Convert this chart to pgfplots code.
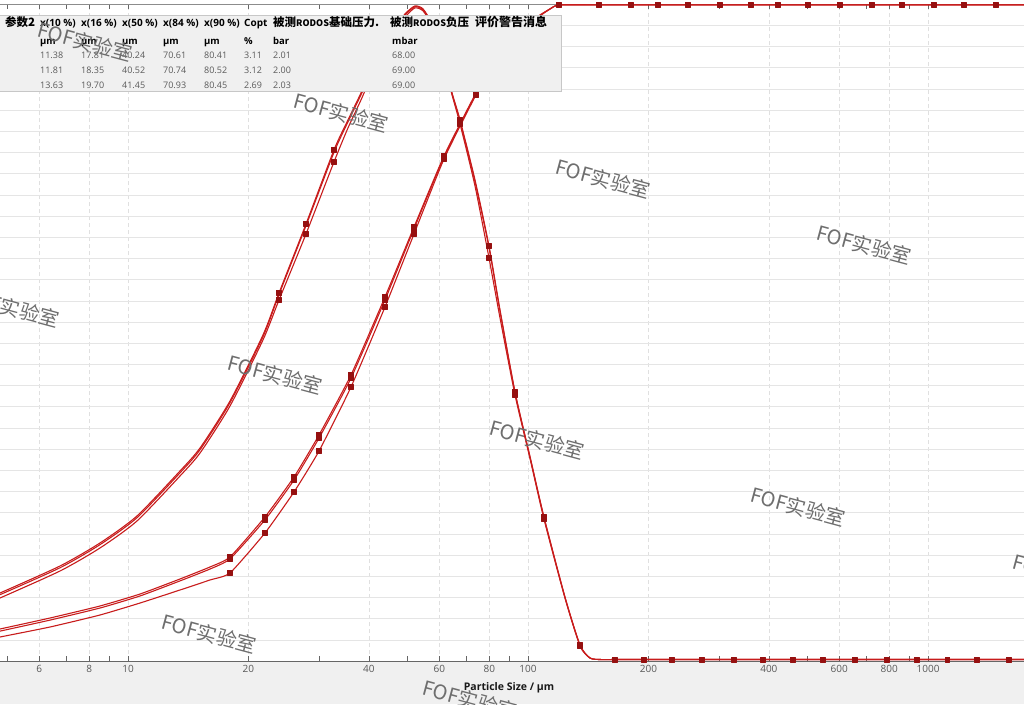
\documentclass[border=0pt]{standalone}
\usepackage{fontspec}
\setmainfont{Open Sans}
\newfontfamily\cjk{Noto Sans CJK SC}
\usepackage{pgfplots}
\pgfplotsset{compat=1.18}
\definecolor{curve}{RGB}{200,28,28}
\definecolor{mk}{RGB}{150,16,16}
\definecolor{boxbg}{RGB}{240,240,240}
\definecolor{strip}{RGB}{240,240,240}
\definecolor{wm}{RGB}{110,110,110}
\definecolor{tabtxt}{RGB}{90,90,90}

\pgfplotstableread{
x y
4.786 3.209
6.761 4.483
8.511 5.569
10.53 6.843
13.49 8.967
15.14 10.052
17.99 12.270
21.75 15.385
23.85 17.367
27.86 20.623
32.73 24.115
35.48 25.531
38.24 26.805
41.45 28.268
45.19 29.542
47.86 30.250
49.83 30.628
52.18 30.911
54.64 30.769
57.54 30.061
60.95 28.598
64.57 26.805
67.61 25.531
73.70 22.700
79.89 19.585
85.11 16.565
92.79 12.695
101.2 9.627
109.6 6.796
123.7 3.020
134.9 0.755
142.9 0.142
151.4 0.07
165.0 0.07
195.0 0.07
229.1 0.07
272.3 0.07
327.3 0.07
386.8 0.07
459.7 0.07
546.3 0.07
656.9 0.07
789.6 0.07
938.8 0.07
1116 0.07
1326 0.07
1594 0.07
1737.8 0.07
}\densA

\pgfplotstableread{
x y
4.786 2.973
6.761 4.247
8.511 5.333
10.53 6.607
13.49 8.731
15.14 9.816
17.99 12.034
21.75 15.149
23.85 17.036
27.86 20.151
32.73 23.549
35.48 25.153
38.24 26.475
41.45 27.985
45.19 29.306
47.86 30.061
49.83 30.486
52.18 30.817
54.64 30.675
57.54 29.967
60.95 28.504
64.57 26.711
67.61 25.342
73.70 22.416
79.89 19.018
85.11 16.187
92.79 12.553
101.2 9.533
109.6 6.701
123.7 2.973
134.9 0.708
142.9 0.142
151.4 0.07
165.0 0.07
195.0 0.07
229.1 0.07
272.3 0.07
327.3 0.07
386.8 0.07
459.7 0.07
546.3 0.07
656.9 0.07
789.6 0.07
938.8 0.07
1116 0.07
1326 0.07
1594 0.07
1737.8 0.07
}\densB

\pgfplotstableread{
x y
4.786 3.13
6.761 4.40
8.511 5.49
10.53 6.76
13.49 8.88
15.14 9.97
17.99 12.19
21.75 15.30
23.85 17.29
27.86 20.54
32.73 24.00
35.48 25.44
38.24 26.72
41.45 28.19
45.19 29.47
47.86 30.19
49.83 30.58
52.18 30.87
54.64 30.73
57.54 30.02
60.95 28.56
64.57 26.77
67.61 25.47
73.70 22.62
79.89 19.50
85.11 16.50
92.79 12.66
101.2 9.60
109.6 6.78
123.7 3.00
134.9 0.74
142.9 0.14
151.4 0.07
165.0 0.07
195.0 0.07
229.1 0.07
272.3 0.07
327.3 0.07
386.8 0.07
459.7 0.07
546.3 0.07
656.9 0.07
789.6 0.07
938.8 0.07
1116 0.07
1326 0.07
1594 0.07
1737.8 0.07
}\densC

\pgfplotstableread{
x y
23.85 17.367
27.86 20.623
32.73 24.115
67.61 25.531
79.89 19.585
92.79 12.695
109.6 6.796
134.9 0.755
23.85 17.036
27.86 20.151
32.73 23.549
67.61 25.342
79.89 19.018
92.79 12.553
109.6 6.701
134.9 0.708
165.0 0.07
195.0 0.07
229.1 0.07
272.3 0.07
327.3 0.07
386.8 0.07
459.7 0.07
546.3 0.07
656.9 0.07
789.6 0.07
938.8 0.07
1116 0.07
1326 0.07
1594 0.07
}\densMarks

\pgfplotstableread{
x y1 y2 y3
4.786 1.510 1.41 1.133
6.383 2.029 1.93 1.605
8.511 2.596 2.50 2.171
10.72 3.162 3.07 2.737
13.49 3.870 3.78 3.351
16.03 4.436 4.34 3.823
17.99 4.908 4.82 4.153
22.00 6.796 6.66 6.041
26.00 8.683 8.54 7.976
30.03 10.665 10.52 9.910
36.10 13.497 13.35 12.931
43.90 17.178 17.04 16.706
51.88 20.481 20.39 20.151
61.66 23.832 23.78 23.690
74.13 26.805 26.76 26.711
82.70 28.268 28.24 28.174
90.16 29.212 29.19 29.118
98.28 29.967 29.95 29.873
107.2 30.486 30.47 30.439
113.5 30.769 30.76 30.769
119.5 30.958 30.958 30.958
150.5 30.958 30.958 30.958
180.9 30.958 30.958 30.958
211.3 30.958 30.958 30.958
251.2 30.958 30.958 30.958
302.0 30.958 30.958 30.958
361.0 30.958 30.958 30.958
421.7 30.958 30.958 30.958
501.2 30.958 30.958 30.958
602.6 30.958 30.958 30.958
724.4 30.958 30.958 30.958
861.0 30.958 30.958 30.958
1035 30.958 30.958 30.958
1230 30.958 30.958 30.958
1479 30.958 30.958 30.958
1737.8 30.958 30.958 30.958
}\cumul

\pgfplotstableread{
x y1 y2 y3
17.99 4.908 4.82 4.153
22.00 6.796 6.66 6.041
26.00 8.683 8.54 7.976
30.03 10.665 10.52 9.910
36.10 13.497 13.35 12.931
43.90 17.178 17.04 16.706
51.88 20.481 20.39 20.151
61.66 23.832 23.78 23.690
74.13 26.805 26.76 26.711
}\cumulMarks

\pgfplotstableread{
x y
119.5 30.958
150.5 30.958
180.9 30.958
211.3 30.958
251.2 30.958
302.0 30.958
361.0 30.958
421.7 30.958
501.2 30.958
602.6 30.958
724.4 30.958
861.0 30.958
1035 30.958
1230 30.958
1479 30.958
}\plateauMarks

\newcommand{\rodos}{{\fontsize{9}{10}\selectfont RODOS}}

\begin{document}
\begin{tikzpicture}
\useasboundingbox (0pt,0pt) rectangle (1024pt,-704pt);
\clip (0pt,0pt) rectangle (1024pt,-704pt);
\fill[white] (0pt,0pt) rectangle (1024pt,-704pt);
\fill[strip] (0pt,-661pt) rectangle (1024pt,-704pt);
\begin{axis}[
  at={(0pt,-661pt)}, anchor=south west,
  scale only axis, width=1024pt, height=657pt,
  xmode=log, xmin=4.786, xmax=1737.8, ymin=0, ymax=31,
  axis line style={draw=none},
  xtick={6,8,10,20,40,60,80,100,200,400,600,800,1000},
  xticklabels={6,8,10,20,40,60,80,100,200,400,600,800,1000},
  minor xtick={5,7,9,30,50,70,90,300,500,700,900},
  ytick={0,1,...,31}, yticklabels={},
  ytick style={draw=none},
  tick align=inside,
  major tick length=5pt, minor tick length=5pt,
  xtick style={draw=black!60, line width=0.7pt},
  xmajorgrids, ymajorgrids,
  major x grid style={dash pattern=on 4pt off 3pt, black!12},
  major y grid style={black!10},
  xticklabel style={font=\fontsize{10}{12}\selectfont, text=black!65, yshift=-1pt},
  clip=false,
  every axis plot/.append style={line join=round},
]
\draw[black!60, line width=0.8pt] (rel axis cs:0,0) -- (rel axis cs:1,0);
\draw[black!45, line width=0.6pt] (rel axis cs:0,1) -- (rel axis cs:1,1);
\addplot[curve, line width=1.1pt, no marks, smooth, tension=0.4] table[x=x,y=y] {\densB};
\addplot[curve, line width=1.1pt, no marks, smooth, tension=0.4] table[x=x,y=y] {\densC};
\addplot[curve, line width=1.1pt, no marks, smooth, tension=0.4] table[x=x,y=y] {\densA};
\addplot[curve, line width=1.1pt, no marks, smooth, tension=0.3] table[x=x,y=y3] {\cumul};
\addplot[curve, line width=1.1pt, no marks, smooth, tension=0.3] table[x=x,y=y2] {\cumul};
\addplot[curve, line width=1.1pt, no marks, smooth, tension=0.3] table[x=x,y=y1] {\cumul};
\addplot[only marks, mark=square*, mark size=2.4pt, mark options={fill=mk, draw=mk}] table[x=x,y=y] {\densMarks};
\addplot[only marks, mark=square*, mark size=2.4pt, mark options={fill=mk, draw=mk}] table[x=x,y=y1] {\cumulMarks};
\addplot[only marks, mark=square*, mark size=2.4pt, mark options={fill=mk, draw=mk}] table[x=x,y=y2] {\cumulMarks};
\addplot[only marks, mark=square*, mark size=2.4pt, mark options={fill=mk, draw=mk}] table[x=x,y=y3] {\cumulMarks};
\addplot[only marks, mark=square*, mark size=2.4pt, mark options={fill=mk, draw=mk}] table[x=x,y=y] {\plateauMarks};
\end{axis}
% x label
\node[font=\bfseries\fontsize{10.5}{12}\selectfont, text=black!90] at (509pt,-688pt) {Particle Size / µm};
% results table
\fill[boxbg, draw=black!22] (-1pt,-15pt) rectangle (561pt,-91pt);
\begin{scope}[every node/.style={anchor=base west, inner sep=0pt}]
\node[font=\cjk\bfseries\fontsize{11.5}{12}\selectfont] at (5pt,-27pt) {参数2};
\node[font=\bfseries\fontsize{10}{12}\selectfont] at (40pt,-27pt) {x(10 \%)};
\node[font=\bfseries\fontsize{10}{12}\selectfont] at (81pt,-27pt) {x(16 \%)};
\node[font=\bfseries\fontsize{10}{12}\selectfont] at (122pt,-27pt) {x(50 \%)};
\node[font=\bfseries\fontsize{10}{12}\selectfont] at (163pt,-27pt) {x(84 \%)};
\node[font=\bfseries\fontsize{10}{12}\selectfont] at (204pt,-27pt) {x(90 \%)};
\node[font=\bfseries\fontsize{10}{12}\selectfont] at (244pt,-27pt) {Copt};
\node[font=\cjk\bfseries\fontsize{11.5}{12}\selectfont] at (273pt,-27pt) {被测\rodos 基础压力.};
\node[font=\cjk\bfseries\fontsize{11.5}{12}\selectfont] at (390pt,-27pt) {被测\rodos 负压};
\node[font=\cjk\bfseries\fontsize{12}{12}\selectfont] at (475pt,-27pt) {评价警告消息};
\foreach \xx in {40,81,122,163,204}{\node[font=\bfseries\fontsize{9.5}{11}\selectfont] at (\xx pt,-44pt) {µm};}
\node[font=\bfseries\fontsize{9.5}{11}\selectfont] at (244pt,-44pt) {\%};
\node[font=\bfseries\fontsize{9.5}{11}\selectfont] at (273pt,-44pt) {bar};
\node[font=\bfseries\fontsize{9.5}{11}\selectfont] at (392pt,-44pt) {mbar};
\foreach \ya/\va/\vb/\vc/\vd/\ve/\vf/\vg/\vh in {
  58/11.38/17.81/40.24/70.61/80.41/3.11/2.01/68.00,
  73/11.81/18.35/40.52/70.74/80.52/3.12/2.00/69.00,
  88/13.63/19.70/41.45/70.93/80.45/2.69/2.03/69.00}{
  \node[font=\fontsize{9}{11}\selectfont, text=tabtxt] at (40pt,-\ya pt) {\va};
  \node[font=\fontsize{9}{11}\selectfont, text=tabtxt] at (81pt,-\ya pt) {\vb};
  \node[font=\fontsize{9}{11}\selectfont, text=tabtxt] at (122pt,-\ya pt) {\vc};
  \node[font=\fontsize{9}{11}\selectfont, text=tabtxt] at (163pt,-\ya pt) {\vd};
  \node[font=\fontsize{9}{11}\selectfont, text=tabtxt] at (204pt,-\ya pt) {\ve};
  \node[font=\fontsize{9}{11}\selectfont, text=tabtxt] at (244pt,-\ya pt) {\vf};
  \node[font=\fontsize{9}{11}\selectfont, text=tabtxt] at (273pt,-\ya pt) {\vg};
  \node[font=\fontsize{9}{11}\selectfont, text=tabtxt] at (392pt,-\ya pt) {\vh};
}
\end{scope}
% watermarks
\begin{scope}[every node/.style={rotate=-15, text=wm, font=\cjk\fontsize{20}{22}\selectfont, inner sep=0pt}]
\node at (85pt,-42pt) {FOF实验室};
\node at (341pt,-113pt) {FOF实验室};
\node at (603pt,-179pt) {FOF实验室};
\node at (864pt,-245pt) {FOF实验室};
\node at (12pt,-308pt) {FOF实验室};
\node at (275pt,-375pt) {FOF实验室};
\node at (537pt,-440pt) {FOF实验室};
\node at (798pt,-507pt) {FOF实验室};
\node at (1060pt,-574pt) {FOF实验室};
\node at (209pt,-634pt) {FOF实验室};
\node at (470pt,-700pt) {FOF实验室};
\end{scope}
\end{tikzpicture}
\end{document}
